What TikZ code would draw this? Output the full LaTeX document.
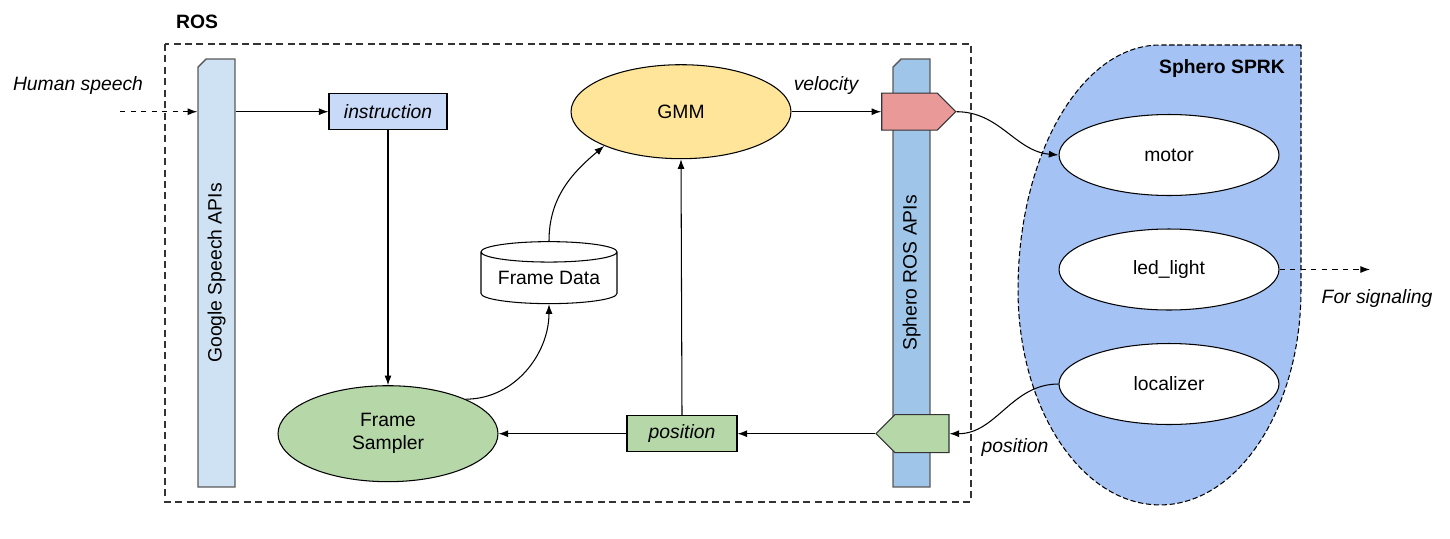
\documentclass[tikz,border=0pt]{standalone}
\usepackage{fontspec}
\setmainfont{Liberation Sans}
\usetikzlibrary{positioning,shapes.geometric,shapes.misc,shapes.symbols,arrows.meta}
\definecolor{gapiblue}{HTML}{CFE2F3}
\definecolor{sapiblue}{HTML}{9FC5E8}
\definecolor{instrblue}{HTML}{C9DAF8}
\definecolor{gmmyellow}{HTML}{FFE599}
\definecolor{posgreen}{HTML}{B6D7A8}
\definecolor{velred}{HTML}{EA9999}
\definecolor{sprkblue}{HTML}{A4C2F4}
\definecolor{bargray}{HTML}{595959}
\tikzset{api bar/.style={chamfered rectangle,chamfered rectangle corners=north west,chamfered rectangle xsep=0.08cm,chamfered rectangle ysep=0.08cm,draw=bargray,line width=0.8pt,minimum width=0.74cm,minimum height=8.56cm,inner sep=0pt} }
\tikzset{port/.style={signal,signal from=nowhere,draw=black!80,line width=0.6pt,minimum width=1.48cm,minimum height=0.74cm,inner sep=0pt} }
\tikzset{box/.style={rectangle,draw,line width=0.6pt,minimum height=0.73cm,inner sep=0pt,font=\fontsize{11}{13}\selectfont\itshape} }
\tikzset{blob/.style={ellipse,draw,line width=0.6pt,minimum width=4.4cm,inner sep=0pt} }
\tikzset{part/.style={blob,fill=white,minimum height=1.62cm} }
\tikzset{db/.style={cylinder,shape border rotate=90,aspect=0.2,draw,fill=white,line width=0.6pt,minimum width=2.72cm,minimum height=1.24cm,inner sep=0pt} }
\tikzset{note/.style={font=\fontsize{11}{13}\selectfont\itshape} }
\tikzset{title/.style={font=\fontsize{11}{13}\selectfont\bfseries} }

\begin{document}
\begin{tikzpicture}[x=0.02cm,y=-0.02cm,font=\fontsize{11}{13}\selectfont,line width=0.6pt,>={Latex[length=5.5pt,width=4pt]}]
\useasboundingbox (0,0) rectangle (1450,538);

  % frames
  \draw[dash pattern=on 4pt off 2.5pt,black!80] (165,44) rectangle (971,502);
  \node[title] (roslabel) at (197,22) {ROS};
  \draw[dash pattern=on 3pt off 1.5pt,fill=sprkblue] (1301,45) -- (1160,45)
    arc[start angle=90,end angle=180,x radius=2.84cm,y radius=4.9cm]
    arc[start angle=180,end angle=270,x radius=2.84cm,y radius=4.3cm]
    arc[start angle=270,end angle=360,x radius=2.82cm,y radius=4.3cm] -- cycle;
  \node[title] (sprklabel) at (1222,68) {Sphero SPRK};

  \node[api bar,fill=gapiblue] (gapi) at (216.5,273) {\rotatebox{90}{Google Speech APIs}};
  \node[api bar,fill=sapiblue] (sapi) at (911.5,273) {\rotatebox{90}{Sphero ROS APIs}};
  \node[port,signal to=east,fill=velred] (velport) at (909.5,111.7) {};
  \node[port,signal to=west,fill=posgreen,minimum width=1.46cm,minimum height=0.76cm] (posport) at (922,433.7) {};

  \node[box,fill=instrblue,minimum width=2.36cm] (instr) at (388,111.7) {instruction};
  \node[box,fill=posgreen,minimum width=2.2cm] (posbox) at (682,433.7) {position};
  \node[blob,fill=posgreen,align=center,minimum height=1.92cm] (sampler) at (388,433.7) {Frame\\Sampler};
  \node[db] (fdata) at (549,278) {Frame Data};
  \node[blob,fill=gmmyellow,minimum height=1.88cm] (gmm) at (681,111.7) {GMM};

  \node[part] (motor) at (1169,155) {motor};
  \node[part] (led) at (1169,269.5) {led\_light};
  \node[part] (loc) at (1169,384) {localizer};

  \coordinate (speechin) at (120,111.7);
  \coordinate (signalout) at (1370,269.5);
  \node[note] (speechlabel) at (78,85) {Human speech};
  \node[note] (signallabel) at (1377,298) {For signaling};
  \node[note] (vellabel) at (826,85) {velocity};
  \node[note] (poslabel) at (1015,447) {position};

    \path
    (speechin) edge [->,dashed] (speechin -| gapi.west)
    (gapi.east |- instr) edge [->] (instr.west)
    (instr.south) edge [->] (sampler.north)
    (sampler.24) edge [->,out=0,in=-90] (fdata.270)
    (fdata.90) edge [->,out=90,in=-140] (gmm.204)
    (gmm.east) edge [->] (velport.west)
    (velport.east) edge [->,out=0,in=175] (motor.west)
    (loc.west) edge [->,out=180,in=0] (posport.east)
    (posport.west) edge [->] (posbox.east)
    (posbox.west) edge [->] (sampler.east)
    (posbox.north) edge [->] (gmm.south)
    (led.east) edge [->,dashed] (signalout)

    ;
\end{tikzpicture}
\end{document}
